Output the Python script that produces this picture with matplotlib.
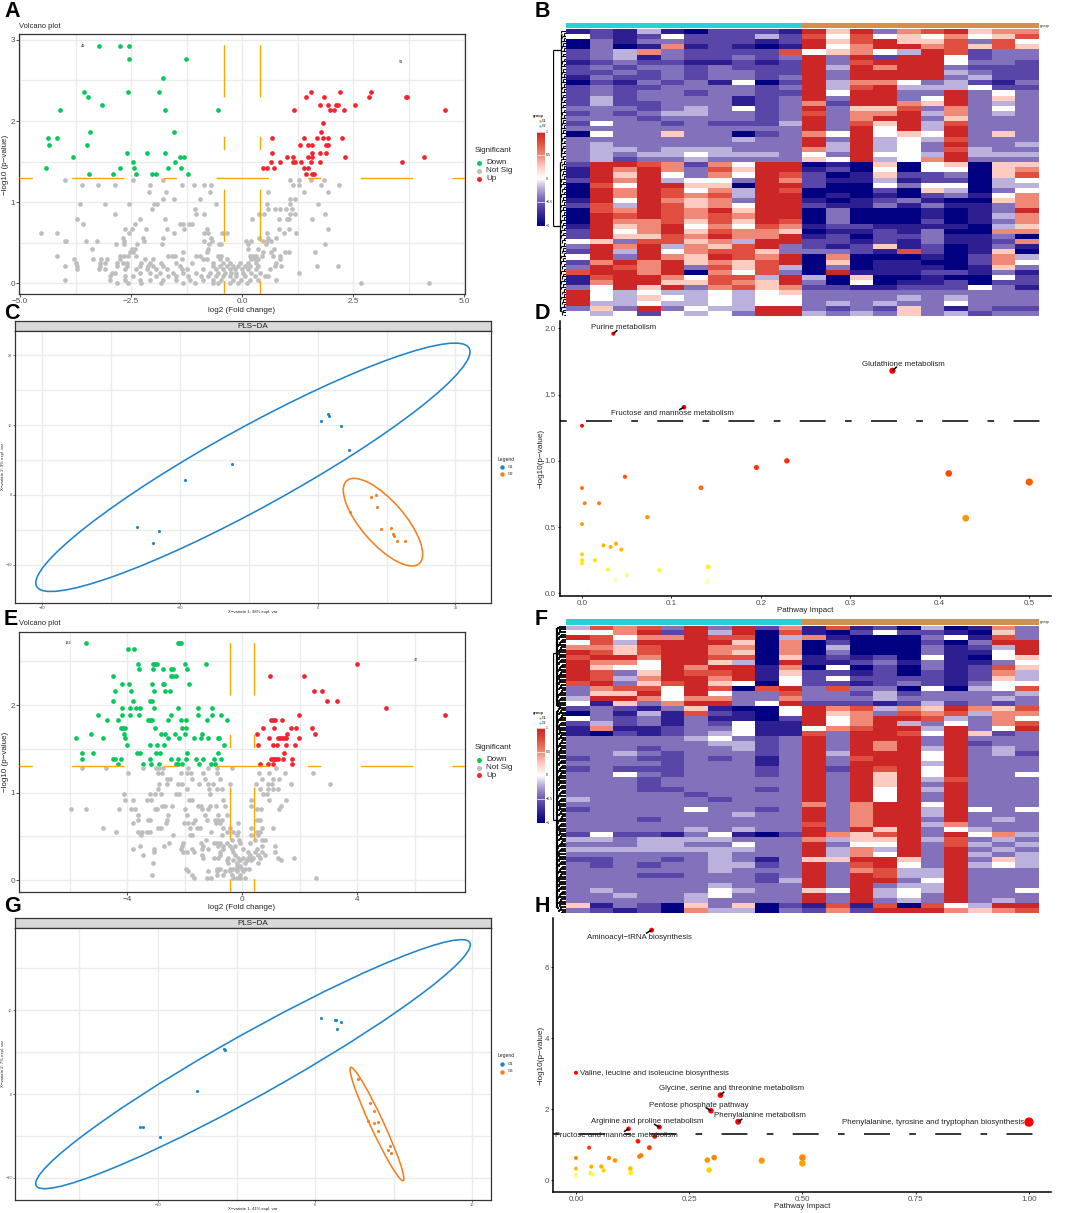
import numpy as np
import matplotlib
matplotlib.use("Agg")
import matplotlib.pyplot as plt
from matplotlib.patches import Ellipse
from matplotlib.colors import LinearSegmentedColormap, Normalize

plt.rcParams['font.family'] = ['Liberation Sans', 'DejaVu Sans']
plt.rcParams['lines.scale_dashes'] = False
W, H = 1072, 1213
fig = plt.figure(figsize=(W/100, H/100), dpi=100, facecolor='white')

def box(l, t, r, b, **kw):
    return fig.add_axes([l/W, 1-b/H, (r-l)/W, (b-t)/H], **kw)
def txt(x, y, s, **kw):
    kw.setdefault('ha', 'center'); kw.setdefault('va', 'center')
    fig.text(x/W, 1-y/H, s, **kw)
def flat(rows):
    xs, ys = [], []
    for y, row in rows:
        xs += row; ys += [y]*len(row)
    return xs, ys

GREEN, GREY, RED = '#06C95C', '#BEBEBE', '#F5222F'
ORANGE_LINE = '#FFA500'
BLUE, ORANGE = '#1F84CC', '#F57F20'
GRAY_T = '#4d4d4d'

# ---------- Panel A data ----------
A_down = [(2.93,[-3.23,-2.76,-2.54]),(2.77,[-2.54,-1.26]),(2.53,[-1.78]),(2.36,[-3.56,-2.58,-1.88]),
 (2.30,[-3.47]),(2.20,[-3.15]),(2.14,[-4.10,-1.73,-0.54]),(1.86,[-3.42,-1.54]),(1.79,[-4.38,-4.18]),
 (1.70,[-4.34,-3.50]),(1.61,[-2.59,-2.15,-1.73]),(1.55,[-3.81,-1.40,-1.31]),(1.49,[-2.45,-1.52]),
 (1.42,[-4.41,-2.75,-2.43,-1.66,-1.37]),(1.35,[-3.46,-2.91,-2.39,-2.02,-1.93,-1.21])]
A_up = [(2.36,[1.55,2.21,2.90]),(2.30,[1.43,1.85,2.86,3.69,3.72]),(2.20,[1.76,1.93,2.12,2.15,2.54]),
 (2.14,[1.16,1.97,2.06,2.30,4.58]),(1.98,[1.82]),(1.86,[1.77]),(1.79,[0.67,1.39,1.68,1.82,1.94,2.24]),
 (1.70,[1.30,1.49,1.58,1.88,1.94]),(1.61,[0.68,1.58,1.76,1.90]),(1.55,[1.0,1.15,1.49,1.58,2.31,4.10]),
 (1.49,[0.65,0.86,1.15,1.2,1.33,1.55,1.76,3.59]),(1.42,[0.48,0.55,0.71,1.39,1.49]),(1.35,[1.43,1.58,1.62])]
A_ns = [(1.27,[-4.0,-2.45,-1.78,1.07,1.28,1.54,1.84]),
 (1.21,[-3.6,-3.25,-2.87,-2.08,-1.36,-1.09,-.86,-.7,1.15,1.28,1.78,2.19]),
 (1.12,[-2.1,-1.72,-.73,.59,1.39,1.94]),(1.04,[-1.79,-1.54,-.95,1.07,1.18]),
 (.98,[-3.66,-3.09,-2.54,-1.98,-1.91,-.6,.55,1.07,1.7]),(.91,[-2.04,-1.06,.59,.74,.86,.98,1.12]),
 (.85,[-2.87,-1.05,-.87,.38,.5,1.18,1.86,1.07]),(.79,[-3.71,-2.3,-1.74,.23,.83,1.0,1.06,1.58]),
 (.73,[-3.59,-2.42,-1.4,-1.33,-1.19,-1.13]),(.67,[-2.65,-2.49,-2.17,-1.7,-1.31,-.8,1.06,1.94,.83]),
 (.62,[-4.54,-4.16,-2.55,-1.53,-.86,-.76,-.46,-.34,.55,.94,1.22]),(.56,[-2.68,-2.23,-1.78,-.71,.38,.59,.77]),
 (.52,[-3.99,-3.96,-3.52,-3.26,-2.66,-2.2,-.86,-.68,.08,.19,.55,.47,.64]),
 (.48,[-2.84,-2.66,-2.36,-1.8,-.74,-.52,-.47,.53,1.86,.13]),(.42,[-3.39,-2.49,-2.42,-.77,.13,.36,.71]),
 (.38,[-2.53,-2.45,-1.33,-.79,.46,.64,.96,1.06,1.64]),
 (.34,[-4.18,-2.75,-2.66,-2.57,-2.38,-1.67,-1.59,-1.52,-1.03,-.95,-.54,-.47,.17,.25,.32,.44,.7,.85]),
 (.30,[-3.79,-3.37,-3.17,-3.04,-2.75,-2.19,-2.0,-1.36,-.88,-.8,-.5,-.35,.21,.29,.36,.85]),
 (.25,[-3.75,-3.2,-3.09,-2.83,-2.68,-2.6,-2.27,-2.08,-1.82,-1.48,-1.14,-.65,-.43,-.28,-.05,.13,.32,.77]),
 (.21,[-4.0,-3.73,-3.2,-2.83,-2.6,-2.3,-2.12,-2.0,-1.78,-1.4,-.65,-.5,-.35,-.2,-.09,.06,.17,.36,.74,.87,1.69,2.17]),
 (.17,[-3.73,-3.22,-3.09,-2.64,-2.38,-2.15,-1.93,-1.7,-1.36,-1.25,-.88,-.58,-.43,-.28,-.17,-.01,.13,.32,.62]),
 (.13,[-2.94,-2.87,-2.3,-2.08,-1.85,-1.55,-1.33,-1.03,-.73,-.54,-.39,-.24,-.13,.02,.21,.4,1.29]),
 (.09,[-2.98,-2.64,-2.45,-1.93,-1.67,-1.48,-1.22,-.92,-.77,-.58,-.43,-.28,-.13,.06,.29,.51,.59]),
 (.04,[-3.98,-2.98,-2.64,-2.3,-2.08,-1.78,-1.48,-1.18,-.88,-.65,-.47,-.2,-.02,.17,.36,.76]),
 (.0,[-2.83,-2.57,-2.27,-1.82,-1.33,-1.07,-.65,-.54,-.28,-.09,.1,2.67,4.2])]

# ---------- Panel E data ----------
E_down = [(2.71,[-5.44,-2.25,-2.19,-2.14]),(2.64,[-3.97,-3.77]),(2.47,[-3.62,-3.12,-3.04,-2.98,-1.98,-1.28]),
 (2.41,[-3.58,-3.12,-2.76,-2.48,-2.42,-1.92]),(2.33,[-4.5,-2.48,-2.4,-2.31]),
 (2.24,[-4.2,-3.94,-3.14,-2.76,-2.71,-1.84]),(2.16,[-4.44,-3.87,-3.06,-2.7,-2.53]),(2.05,[-4.5,-3.79,-3.2,-3.13]),
 (1.97,[-4.2,-3.91,-3.7,-3.57,-3.08,-2.24,-1.55,-1.04]),(1.89,[-5.01,-4.17,-3.92,-3.58,-2.48,-1.53,-1.06,-.75]),
 (1.83,[-4.71,-4.32,-3.29,-3.22,-3.15,-2.6,-2.14,-1.97,-1.24,-.52]),(1.74,[-4.22,-4.15,-4.08,-3.04,-2.11,-1.95]),
 (1.67,[-5.26,-4.1,-2.83,-2.68,-2.33,-1.98,-1.39]),
 (1.62,[-5.79,-4.83,-4.08,-2.57,-2.21,-1.67,-1.44,-1.19,-.85,-.8]),(1.54,[-4.01,-3.22,-2.97,-2.72,-.65]),
 (1.45,[-5.57,-5.21,-3.68,-3.55,-3.01,-2.86,-1.92,-.86]),
 (1.39,[-5.57,-4.51,-4.43,-4.23,-3.2,-2.48,-2.24,-1.95,-1.61,-1.37,-.99,-.74]),
 (1.33,[-4.32,-3.44,-3.18,-2.9,-2.31,-2.23,-2.11,-1.52,-1.1,-.95])]
E_up = [(2.47,[3.98]),(2.33,[.96,2.16]),(2.16,[2.49,2.79]),(2.05,[2.96,3.29]),(1.97,[5.0]),(1.89,[1.99,7.07]),
 (1.83,[1.0,1.08,1.14,1.39]),(1.74,[.72,1.11,1.69,1.86,2.42]),(1.67,[.52,1.57,2.52]),
 (1.62,[.92,1.23,1.31,1.38,1.45,1.52,1.97]),(1.54,[.53,1.06,1.22,1.51,1.82]),(1.45,[1.45]),
 (1.39,[.99,1.06,1.12,1.19,1.25,1.41,1.73]),(1.33,[.6,.88,1.06,1.74])]
E_ns = [(1.28,[-5.57,-4.75,-3.47,-3.0,-2.89,-2.77,-1.88,-1.18,-.87,-.37,1.17]),
 (1.22,[-3.99,-2.92,-2.81,-2.14,-1.91,-1.8,-1.36,-.89,.58,.94,1.48,2.46]),
 (1.15,[-2.63,-2.52,-1.76,-1.3,-.78,.7,1.08,1.29]),
 (1.10,[-2.89,-2.63,-2.23,-2.11,-1.5,-1.18,-1.01,-.43,.48,.9,1.02,1.7,3.05]),
 (1.04,[-2.92,-1.94,-1.15,-.87,-.72,.61,.88,1.08,1.25]),
 (.98,[-4.13,-3.21,-3.04,-2.83,-2.32,-2.19,-1.12,.73,.85]),
 (.91,[-4.08,-3.79,-3.33,-3.18,-1.84,-1.75,-.66,.29,.94,1.51]),
 (.85,[-2.78,-2.7,-2.45,-1.53,-1.45,-1.12,-.92,-.6,.32,1.33]),
 (.81,[-5.97,-5.44,-4.29,-3.86,-3.73,-3.04,-2.96,-1.99,-1.41,-1.18,.52,.64,1.26]),
 (.74,[-3.64,-2.57,-1.91,-1.3,-.83,-.54]),
 (.69,[-3.62,-3.29,-3.22,-2.63,-1.65,-1.22,-.95,-.83,-.72,.5,.61]),
 (.65,[-3.79,-2.67,-2.02,-1.88,-1.7,-.92,-.78,-.14]),
 (.60,[-4.83,-2.94,-2.83,-1.82,-1.59,-1.47,-.66,-.43,.32,.67,1.08]),
 (.55,[-4.38,-3.62,-3.5,-3.33,-3.21,-1.1,-.54,-.31,-.14,.5,.61]),
 (.51,[-3.52,-2.4,-1.82,-1.76,-.72,-.2,.32,.56]),(.46,[-1.26,-.37,-.1,.44,.67,.79]),
 (.42,[-2.54,-2.08,-1.43,-1.0,-.89,-.78,-.54,-.08,.27]),
 (.39,[-3.55,-2.71,-2.11,-1.36,-.83,-.66,-.43,-.25,.67,1.14]),
 (.35,[-3.81,-3.06,-2.13,-1.76,-1.39,-1.18,-.68,-.37,.03,.5]),
 (.32,[-3.06,-2.05,-1.94,-1.67,-.78,-.31,.21,.44,.67,1.14]),
 (.29,[-3.44,-1.41,-.78,-.25,.27,.56,.79]),
 (.25,[-1.36,-1.0,-.83,-.49,-.14,.03,.21,.38,.61,1.25,1.79]),
 (.23,[-.54,-.31,-.08,.15,.32,1.35]),(.19,[-3.1,-.49,-.2,.09,.56]),(.16,[-.2,-.08]),
 (.13,[-1.97,-.89,-.78,-.43,-.31,-.2,-.02,.09,.24]),(.10,[-1.88,-1.18,-.89,-.6,-.43,-.2,.03]),
 (.06,[-3.14,-1.76,-.89,-.66,-.37,-.08]),(.02,[-1.67,-1.22,-1.1,-.31,-.2,-.08,.09,2.55])]

A_xticks, A_xticklabels = [-5,-2.5,0,2.5,5], ['−5.0','−2.5','0.0','2.5','5.0']
E_xticks, E_xticklabels = [-4,0,4], ['−4','0','4']

def volcano(ax_box, xlim, ylim, xt, xtl, yt, minorx, minory, down, ns, up):
    ax = box(*ax_box)
    ax.set_xlim(*xlim); ax.set_ylim(*ylim)
    for v in list(xt)+list(minorx):
        ax.axvline(v, color='#ebebeb', lw=1.0, zorder=0)
    for v in list(yt)+list(minory):
        ax.axhline(v, color='#ebebeb', lw=1.0, zorder=0)
    for c, d in ((GREEN, down), (GREY, ns), (RED, up)):
        xs, ys = flat(d)
        ax.scatter(xs, ys, s=11.5, c=c, lw=0, zorder=2)
    ls = (0, (9.6, 28.3, 37.7, 28.3))
    ax.axhline(1.3, color=ORANGE_LINE, lw=1.0, ls=ls, zorder=3)
    ax.axvline(-0.42, color=ORANGE_LINE, lw=1.0, ls=ls, zorder=3)
    ax.axvline(0.41, color=ORANGE_LINE, lw=1.0, ls=ls, zorder=3)
    ax.set_xticks(xt); ax.set_xticklabels(xtl)
    ax.set_yticks(yt)
    ax.tick_params(labelsize=5.9, labelcolor=GRAY_T, length=2, width=.6, pad=1.2, color='#333333')
    for s in ax.spines.values():
        s.set_color('#333333'); s.set_linewidth(.9)
    return ax

volcano((19.3,34.3,465,294), (-5.02,5.02), (-0.135,3.07), A_xticks, A_xticklabels, [0,1,2,3],
        [-3.75,-1.25,1.25,3.75], [.5,1.5,2.5], A_down, A_ns, A_up)
volcano((19.3,631.7,465,891.7), (-7.76,7.75), (-0.133,2.84), E_xticks, E_xticklabels, [0,1,2],
        [-6,-2,2,6], [.5,1.5,2.5], E_down, E_ns, E_up)

def volcano_text(ytitle, ylab, ylegend, xlab_y, labs):
    txt(18.7, ytitle, 'Volcano plot', ha='left', fontsize=5.4, color='#222222')
    txt(5.7, ylab, '−log10 (p−value)', rotation=90, fontsize=5.8, color='#222222')
    txt(242, xlab_y, 'log2 (Fold change)', fontsize=5.8, color='#222222')
    txt(475, ylegend, 'Significant', ha='left', fontsize=5.8, color='#222222')
    for dy, name, c in ((12, 'Down', GREEN), (20, 'Not Sig', GREY), (27.6, 'Up', RED)):
        fig.add_artist(plt.Line2D([479.3/W], [1-(ylegend+dy)/H], marker='o', ms=3.6, mfc=c, mec='none', ls='none', transform=fig.transFigure))
        txt(486, ylegend+dy, name, ha='left', fontsize=5.8, color='#222222')
    for x, y, s in labs:
        txt(x, y, s, fontsize=2.8, color='#222222')

volcano_text(26, 165, 151, 310.7, [(83.5,45.7,'49'),(400.7,62,'58')])
volcano_text(623.3, 761.7, 747.7, 907.3, [(68,642.7,'122'),(416.3,660.3,'47')])

# ---------- PLS-DA panels ----------
C_g1_x = [1.55,1.69,.48,3.43,4.6,-12.48,-19.25,-26.2,-23.08,-23.85]
C_g1_y = [11.59,11.25,10.63,9.92,6.39,4.48,2.15,-4.63,-5.15,-6.82]
C_g2_x = [7.69,8.42,8.56,4.69,9.14,10.64,10.93,11.03,11.47,12.72]
C_g2_y = [-.24,-.05,-1.76,-2.48,-4.86,-4.77,-5.58,-5.87,-6.53,-6.63]
G_g1_x = [.40,1.25,1.36,1.66,1.42,-5.77,-5.75,-7.51,-11.16,-10.93,-9.89]
G_g1_y = [9.03,8.83,8.83,8.63,7.71,5.37,5.21,.32,-3.9,-3.98,-5.09]
G_g3_x = [2.72,3.48,3.73,3.37,3.78,4.01,3.99,4.75,4.67,4.84]
G_g3_y = [1.79,-1.11,-1.99,-3.18,-3.5,-3.34,-4.37,-6.24,-6.72,-7.08]

def pls(boxpx, strip_top, xlim, ylim, xt, xtl, xm, yt, ytl, ym, g1, g2, e1, e2, xl, yl):
    l, t, r, b = boxpx
    s = box(l, strip_top, r, t, xticks=[], yticks=[], facecolor='#d9d9d9')
    for sp in s.spines.values():
        sp.set_color('#333333'); sp.set_linewidth(.9)
    s.text(.5, .47, 'PLS−DA', ha='center', va='center', fontsize=5.8, color='#222222', transform=s.transAxes)
    ax = box(*boxpx)
    ax.set_xlim(*xlim); ax.set_ylim(*ylim)
    for v in xt+xm:
        ax.axvline(v, color='#ebebeb', lw=1.0, zorder=0)
    for v in yt+ym:
        ax.axhline(v, color='#ebebeb', lw=1.0, zorder=0)
    for e, c in ((e1, BLUE), (e2, ORANGE)):
        ax.add_patch(Ellipse(e[:2], e[2], e[3], angle=e[4], fc='none', ec=c, lw=1.15, zorder=2))
    ax.scatter(*g1, s=5, c=BLUE, lw=0, zorder=3)
    ax.scatter(*g2, s=5, c=ORANGE, lw=0, zorder=3)
    ax.set_xticks(xt); ax.set_xticklabels(xtl)
    ax.set_yticks(yt); ax.set_yticklabels(ytl)
    ax.tick_params(labelsize=2.8, labelcolor=GRAY_T, length=1.2, width=.4, pad=.8)
    for sp in ax.spines.values():
        sp.set_color('#333333'); sp.set_linewidth(.9)
    txt(253, b+9, xl, fontsize=3.1, color='#222222')
    txt(3.3, (t+b)/2-0.5, yl, rotation=90, fontsize=3.1, color='#222222')
    return ax

pls((15,331,491,603.3), 321, (-43.9,25.15), (-15.5,23.46), [-40,-20,0,20], ['−40','−20','0','20'], [-30,-10,10],
    [-10,0,10,20], ['−10','0','10','20'], [-5,5,15], (C_g1_x,C_g1_y), (C_g2_x,C_g2_y),
    (-9.39,3.96,71.4,11.5,28.5), (9.48,-3.89,15.85,6.22,-48.34),
    'X−variate 1: 38% expl. var', 'X−variate 2: 9% expl. var')
pls((15,928.3,491,1200), 918.3, (-19.1,11.2), (-12.64,19.76), [-10,0,10], ['−10','0','10'], [-15,-5,5],
    [-10,0,10], ['−10','0','10'], [-5,5,15], (G_g1_x,G_g1_y), (G_g3_x,G_g3_y),
    (-3.95,3.56,40.17,5.81,47.11), (3.94,-3.58,13.92,.9,-76.2),
    'X−variate 1: 41% expl. var', 'X−variate 2: 7% expl. var')

for yt, n2 in ((459, 'G2'), (1056, 'G3')):
    txt(498, yt, 'Legend', ha='left', fontsize=3.6, color='#222222')
    for dy, name, c in ((8, 'G1', BLUE), (15.5, n2, ORANGE)):
        fig.add_artist(plt.Line2D([502.3/W], [1-(yt+dy)/H], marker='o', ms=3.2, mfc=c, mec='none', ls='none', transform=fig.transFigure))
        txt(507.7, yt+dy, name, ha='left', fontsize=3.0, color='#222222')

# ---------- Heatmaps ----------
B_rows = ["1214102221"+"9693789677","5212522242"+"8585657568","0313322212"+"9689668385","0301712101"+"9579978686",
"2347322228"+"5675498233","2341322323"+"9392995233","1232211212"+"9389995332","2323323222"+"9497993222",
"2232323322"+"9399994322","1322323323"+"9399993422","0213231502"+"9477534213","2322333323"+"9489444522",
"2323323322"+"9599339353","2423333123"+"9399359363","2422333123"+"7299769343","3332343523"+"9366837353",
"2323443323"+"8377947343","3332333323"+"9379936333","2533232224"+"9386948333","3333333333"+"9395949333",
"0533633023"+"7595659363","3333333433"+"9394548333","3433333333"+"9494539334","3443444333"+"7494538433",
"3434454443"+"5395549444","3423343333"+"6594579333",
"2998727599"+"0106056066","1979738699"+"1205055067","1969537598"+"2016223068","2979455397"+"2114122045",
"0859966099"+"2005355044","0979857498"+"0002064035","0979878499"+"0101023157","1959767399"+"1012310067",
"2849867599"+"2113131137","0879879699"+"0300010139","0989878799"+"0300010147","0977868698"+"0300020137",
"1967957587"+"1221111046","2957968776"+"0112130077","2966879779"+"1202231130","5638867499"+"2212131127",
"3979476893"+"2126120131","2949578863"+"3321820160","5939769879"+"0700010274","2797967689"+"0601100275",
"3987938684"+"0301110163","8997907583"+"0911122131","1899758849"+"4060010052","1799668769"+"3050112022",
"3596937867"+"2211222531",
"9545445456"+"3333333333","9546545455"+"3333434333","9445445455"+"3434335333","3639354499"+"3232631322","5452545399"+"4343634233"]

F_rows = ["4878393927"+"1812040173","5579294908"+"1025221063","9857798804"+"7100035183","5849999607"+"0200020399",
"7768997707"+"0400031249","9868997607"+"0300031159","8997998806"+"1212051056","9775996409"+"1123131135",
"9655979917"+"0502031286","9836988916"+"2212021274","9847997915"+"2522221264","8936896505"+"2212321355",
"3788598089"+"3833050458","3669595338"+"3324233334","4997577337"+"3334333343","5163799359"+"2221242323",
"2321361005"+"9784769768","0314182105"+"9673878477","5323131102"+"9579984375","2423132511"+"9579435378",
"1711233511"+"5789949359","1021234511"+"8399859623","3333345323"+"9399939333","3333334423"+"9397939233",
"3332333423"+"9397949343","3343233323"+"9499959342","2332232313"+"9389959333","3333233313"+"9399949333",
"2322233323"+"9298959333","3353233323"+"9396959335","3332333333"+"9396948333","3332333333"+"9396939333",
"3332233323"+"9395949333","3333323333"+"9395939333","4333332333"+"9395939333","3333333333"+"7379959333",
"2333353323"+"9379949535","3333333433"+"9379949333","3332333333"+"9379939343","3333333333"+"8379947333",
"3333343433"+"9396935433","2522135102"+"9768939574","4434444333"+"7466948343","3334433533"+"9355938434",
"4444444433"+"9474939343","3333334333"+"9475939434","2233234313"+"6699639364","3232334423"+"9389539454",
"3333334333"+"9378449333","3332233323"+"9398449333","3333333324"+"9399359333","3333334333"+"9393449333",
"3433335433"+"6594549335","3343345333"+"9394539333","3333343333"+"9393439343","6132063602"+"1818085499","3212074403"+"2729997678"]

levels = [-1,-.8,-.6,-.4,-.2,0,.25,.5,.75,1]
heat_cmap = LinearSegmentedColormap.from_list('heat', [(0,'#000080'),(.1,'#2e1f92'),(.2,'#5a45a8'),(.3,'#8572bd'),(.4,'#bcb0dc'),
    (.5,'#ffffff'),(.625,'#ffcdc2'),(.75,'#f08a78'),(.875,'#e0503f'),(1,'#CD2626')])

G1_BAR, G2_BAR = '#2AD0D8', '#D2904A'

def heat(rows, l, t, r, b, bar_t, bar_b, cb_t, cb_b, gy, main, leaf, leaf_lw):
    a = box(l, bar_t, r, bar_b); a.axis('off')
    a.imshow([[0]*10+[1]*10], aspect='auto', cmap=matplotlib.colors.ListedColormap([G1_BAR, G2_BAR]), interpolation='nearest')
    txt(r+2, (bar_t+bar_b)/2, 'group', ha='left', fontsize=2.8, color='#222222')
    ax = box(l, t, r, b); ax.axis('off')
    vals = np.array([[levels[int(ch)] for ch in row] for row in rows])
    ax.imshow(vals, aspect='auto', cmap=heat_cmap, vmin=-1, vmax=1, interpolation='nearest')
    # colour key
    c = box(536.7, cb_t, 544, cb_b); c.axis('off')
    c.imshow(np.linspace(1,-1,128)[:,None], aspect='auto', cmap=heat_cmap, vmin=-1, vmax=1)
    for v, lab in ((1,'1'),(.5,'0.5'),(0,'0'),(-.5,'−0.5'),(-1,'−1')):
        y = cb_t+(cb_b-cb_t)*(1-v)/2
        txt(545.5, y, lab, ha='left', fontsize=2.6, color='#222222')
        fig.add_artist(plt.Line2D([536.7/W, 544/W], [1-y/H]*2, color='white', lw=.5, transform=fig.transFigure))
    txt(538, gy, 'group', fontsize=2.8, fontweight='bold', color='#222222')
    for dy, n, col in ((5.2,'G1',G2_BAR),(10.2,'G2',G1_BAR)):
        fig.add_artist(plt.Line2D([540/W], [1-(gy+dy)/H], marker='s', ms=1.8, mfc=col, mec='none', ls='none', transform=fig.transFigure))
        txt(542, gy+dy, n, ha='left', fontsize=2.4, color='#222222')
    # dendrogram
    d = box(553.3, t, l, b); d.axis('off')
    d.set_xlim(0, 1); d.set_ylim(len(rows)*2, 0)
    for tp, bt, x0, x1, lw in main:
        d.plot([x0, x0], [tp, bt], color='k', lw=lw, solid_capstyle='butt')
        d.plot([x0, x1], [tp, tp], color='k', lw=lw, solid_capstyle='butt')
        d.plot([x0, x1], [bt, bt], color='k', lw=lw, solid_capstyle='butt')
    for i, dd in enumerate(leaf):
        d.plot([dd, 1], [i+.5, i+.5], color='k', lw=leaf_lw, solid_capstyle='butt')
        d.plot([dd, dd], [i+.5, i+1.5], color='k', lw=leaf_lw, solid_capstyle='butt')

B_leaf = [.62,.85,.7,.9,.65,.8,.68,.9,.6,.78]*11+[.7,.85]
F_leaf = [.42,.55,.48,.6,.45,.7,.5,.4,.62,.47]*11+[.5,.6,.45,.7]
heat(B_rows, 565.7, 29.3, 1038, 316, 22.7, 28.3, 131.7, 226, 115.7,
     [(8,77,0,.62,.9),(2,50,.6,.7,.9),(52,110,.55,.7,.9)], B_leaf, .8)
heat(F_rows, 565.7, 625.7, 1038, 913.3, 619.3, 625, 728, 822.7, 712.7,
     [(11,77,0,.28,.9),(1,32,.28,.45,1.6),(34,112,.28,.45,1.6)], F_leaf, 1.3)

# ---------- Pathway panels ----------
D_impact = [.035,.347,.114,0,.229,.195,.41,.048,.5,0,.133,.003,.019,.073,.429,0,.024,.038,.032,.044,0,0,0,.0145,.029,.0865,.141,.05,.037,.14,.007]
D_logp = [1.96,1.68,1.405,1.265,1.0,.95,.905,.88,.84,.795,.797,.68,.68,.575,.567,.523,.362,.375,.35,.33,.294,.25,.226,.25,.18,.174,.2,.138,.1,.09,.03]
H_impact = [.167,0,.319,.298,.358,1.0,.184,.116,.174,.137,.029,.162,.1435,.14,0,.073,.086,.305,.29,.41,.5,.5,.034,.056,0,.12,.061,.294,.121,.032,.037,0,0,.009]
H_logp = [7.05,3.03,2.40,1.96,1.65,1.64,1.50,1.45,1.24,1.10,.92,.92,.70,.67,.63,.63,.56,.64,.57,.555,.64,.48,.385,.39,.33,.33,.28,.29,.21,.2,.16,.15,.1,.03]

D_labels = ['Purine metabolism','Glutathione metabolism','Fructose and mannose metabolism']
D_label_x = [.047,.3594,.1007]; D_label_y = [2.008,1.728,1.356]
D_seg = [(.0395,1.987,.035,1.96),(.352,1.711,.347,1.68),(.1085,1.384,.114,1.405)]
H_labels = ['Aminoacyl−tRNA biosynthesis','Valine, leucine and isoleucine biosynthesis','Glycine, serine and threonine metabolism',
            'Pentose phosphate pathway','Phenylalanine metabolism','Arginine and proline metabolism',
            'Phenylalanine, tyrosine and tryptophan biosynthesis','Fructose and mannose metabolism']
H_label_x = [.1398,.1722,.3429,.2715,.4062,.1575,.7888,.0898]
H_label_y = [6.854,3.023,2.573,2.122,1.822,1.662,1.634,1.258]
H_seg = [(.1545,6.958,.167,7.05),(.3275,2.498,.319,2.40),(.2862,2.056,.298,1.96),(.3672,1.728,.358,1.65),(.1722,1.587,.184,1.50),(.106,1.371,.116,1.45)]

path_cmap = LinearSegmentedColormap.from_list('path', [(0,'#ffffff'),(.077,'#ffffa0'),(.17,'#ffee00'),(.27,'#ffb400'),
    (.46,'#ff9000'),(.62,'#ff6800'),(.77,'#ff2800'),(1,'#ff0000')])
pnorm = Normalize(0, 1.3)

def pathway(boxpx, xlim, ylim, xt, xtl, yt, ytl, imp, lp, r0, rk, labels, lx, ly, seg, ylab_y, xlab_xy):
    ax = box(*boxpx)
    ax.set_xlim(*xlim); ax.set_ylim(*ylim)
    ax.axhline(1.3, color='k', lw=1.1, ls=(0,(4.8,13.9,18.7,13.9)), zorder=1)
    imp = np.array(imp); lp = np.array(lp)
    diam_pt = 2*(r0+rk*imp)/3*.72
    ax.scatter(imp, lp, s=diam_pt**2, c=path_cmap(pnorm(lp)), lw=0, zorder=2)
    for x0, y0, x1, y1 in seg:
        ax.plot([x0, x1], [y0, y1], color='k', lw=1.1, zorder=3, solid_capstyle='butt')
    for s, x, y in zip(labels, lx, ly):
        ax.text(x, y, s, ha='center', va='center', fontsize=5.7, color='#222222', zorder=4)
    ax.set_xticks(xt); ax.set_xticklabels(xtl)
    ax.set_yticks(yt); ax.set_yticklabels(ytl)
    ax.tick_params(labelsize=5.8, labelcolor=GRAY_T, length=1.5, width=.6, pad=1.5)
    ax.spines[['top','right']].set_visible(False)
    ax.spines[['left','bottom']].set_linewidth(1.1)
    txt(541, ylab_y, '−log10(p−value)', rotation=90, fontsize=5.9, color='#222222')
    txt(xlab_xy[0], xlab_xy[1], 'Pathway Impact', fontsize=5.7, color='#222222')

pathway((560,320.7,1050.7,596), (-.0246,.524), (-.02,2.058), [0,.1,.2,.3,.4,.5], ['0.0','0.1','0.2','0.3','0.4','0.5'],
        [0,.5,1,1.5,2], ['0.0','0.5','1.0','1.5','2.0'], D_impact, D_logp, 5.8, 10, D_labels, D_label_x, D_label_y, D_seg, 458, (805.3,610))
pathway((553.3,917.7,1050.7,1192.3), (-.05,1.048), (-.338,7.4), [0,.25,.5,.75,1], ['0.00','0.25','0.50','0.75','1.00'],
        [0,2,4,6], ['0','2','4','6'], H_impact, H_logp, 6, 8, H_labels, H_label_x, H_label_y, H_seg, 1055, (802,1207))

# ---------- Panel letters ----------
for s, x, y in (('A',4,17),('B',535,17),('C',4,319),('D',535,319),('E',4,625),('F',535,625),('G',4,912),('H',535,912)):
    txt(x, y, s, ha='left', va='baseline', fontsize=15.5, fontweight='bold', color='k', zorder=10)

fig.savefig('out.png', dpi=100)
